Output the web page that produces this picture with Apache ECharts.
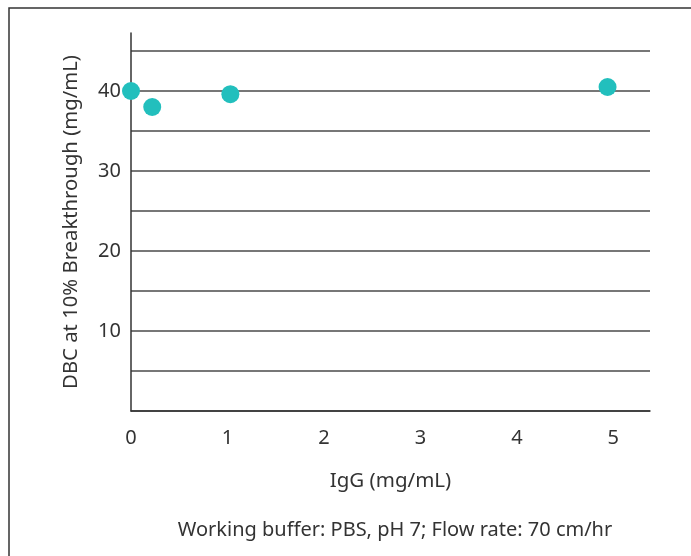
<!DOCTYPE html>
<html>
<head>
<meta charset="utf-8">
<style>
  html, body { margin: 0; padding: 0; background: #fff; }
  #chart { width: 691px; height: 556px; }
</style>
<script src="https://cdn.jsdelivr.net/npm/echarts@6/dist/echarts.min.js"></script>
</head>
<body>
<div id="chart"></div>
<script>
  // IgG (mg/mL) vs DBC at 10% breakthrough (mg/mL)
  const igg = [0, 0.22, 1.03, 4.94];
  const dbc = [40, 38, 39.6, 40.5];
  const xTicks = [0, 1, 2, 3, 4, 5];
  const yLabels = [10, 20, 30, 40];

  const font = 'Noto Sans';
  const ink = '#333';

  let points = igg.map((x, i) => [x, dbc[i]]);

  let mychart = echarts.init(document.getElementById('chart'));
  let option = {
    animation: false,
    backgroundColor: '#fff',
    textStyle: { fontFamily: font, color: ink },
    title: {
      text: 'Working buffer: PBS, pH 7; Flow rate: 70 cm/hr',
      left: 390,
      textAlign: 'center',
      top: 515,
      textStyle: { fontFamily: font, fontSize: 20, fontWeight: 'normal', color: ink }
    },
    graphic: [{
      type: 'rect',
      shape: { x: 9, y: 8, width: 800, height: 700 },
      style: { fill: 'none', stroke: '#333', lineWidth: 1.5 },
      silent: true
    }],
    grid: [
      { left: 131, right: 41, top: 51, bottom: 145 },
      { left: 131, right: 41, top: 33, bottom: 145 }
    ],
    xAxis: [{
      gridIndex: 0,
      type: 'value',
      min: 0,
      max: 5.38,
      interval: 1,
      name: 'IgG (mg/mL)',
      nameLocation: 'middle',
      nameGap: 60,
      nameTextStyle: { fontFamily: font, fontSize: 20.5, color: ink },
      axisLine: { show: true, lineStyle: { color: '#333', width: 1.5 } },
      axisTick: { show: false },
      splitLine: { show: false },
      axisLabel: {
        margin: 17,
        fontFamily: font,
        fontSize: 20,
        color: ink,
        showMaxLabel: false,
        formatter: v => (xTicks.indexOf(v) >= 0 ? String(v) : '')
      }
    }, {
      gridIndex: 1,
      type: 'value',
      min: 0,
      max: 5.38,
      show: false
    }],
    yAxis: [{
      gridIndex: 0,
      type: 'value',
      min: 0,
      max: 45,
      interval: 5,
      axisLine: { show: false },
      axisTick: { show: false },
      splitLine: { show: true, lineStyle: { color: '#4a4a4a', width: 1.5 } },
      axisLabel: {
        margin: 10,
        fontFamily: font,
        fontSize: 20,
        color: ink,
        formatter: v => (yLabels.indexOf(v) >= 0 ? String(v) : '')
      }
    }, {
      gridIndex: 1,
      type: 'value',
      min: 0,
      max: 47.25,
      name: 'DBC at 10% Breakthrough (mg/mL)',
      nameLocation: 'middle',
      nameGap: 50,
      nameTextStyle: { fontFamily: font, fontSize: 20.3, color: ink },
      axisLine: { show: true, lineStyle: { color: '#333', width: 1.5 } },
      axisTick: { show: false },
      axisLabel: { show: false },
      splitLine: { show: false }
    }],
    series: [{
      type: 'scatter',
      xAxisIndex: 0,
      yAxisIndex: 0,
      data: points,
      symbolSize: 18,
      itemStyle: { color: '#22bfbd', opacity: 1 },
      z: 5
    }]
  };
  mychart.setOption(option);
</script>
</body>
</html>
